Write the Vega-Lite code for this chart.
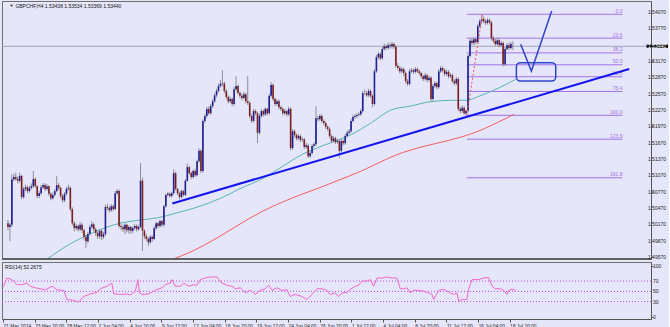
{
"$schema":"https://vega.github.io/schema/vega-lite/v6.json",
"background":"#E6E6FA",
"padding":0,
"spacing":0,
"config":{"view":{"stroke":"#707070"},"font":"Liberation Sans","axis":{"labelFont":"Liberation Sans","labelFontSize":5,"labelColor":"#222222","tickSize":2,"tickColor":"#555555","domainColor":"#555555","grid":false}},
"datasets":{
"bars":[
{"t":0,"o":1.5019,"h":1.5025,"l":1.5006,"c":1.5012},
{"t":1,"o":1.5012,"h":1.5020,"l":1.4986,"c":1.5016},
{"t":2,"o":1.5016,"h":1.5109,"l":1.5012,"c":1.5100},
{"t":3,"o":1.5100,"h":1.5110,"l":1.5096,"c":1.5104},
{"t":4,"o":1.5104,"h":1.5112,"l":1.5097,"c":1.5100},
{"t":5,"o":1.5100,"h":1.5105,"l":1.5092,"c":1.5097},
{"t":6,"o":1.5097,"h":1.5112,"l":1.5094,"c":1.5106},
{"t":7,"o":1.5106,"h":1.5108,"l":1.5063,"c":1.5067},
{"t":8,"o":1.5067,"h":1.5086,"l":1.5064,"c":1.5082},
{"t":9,"o":1.5082,"h":1.5090,"l":1.5078,"c":1.5085},
{"t":10,"o":1.5085,"h":1.5088,"l":1.5074,"c":1.5078},
{"t":11,"o":1.5078,"h":1.5088,"l":1.5075,"c":1.5084},
{"t":12,"o":1.5084,"h":1.5092,"l":1.5081,"c":1.5087},
{"t":13,"o":1.5087,"h":1.5115,"l":1.5084,"c":1.5100},
{"t":14,"o":1.5100,"h":1.5103,"l":1.5084,"c":1.5087},
{"t":15,"o":1.5087,"h":1.5089,"l":1.5065,"c":1.5069},
{"t":16,"o":1.5069,"h":1.5078,"l":1.5065,"c":1.5074},
{"t":17,"o":1.5074,"h":1.5089,"l":1.5071,"c":1.5085},
{"t":18,"o":1.5085,"h":1.5093,"l":1.5082,"c":1.5089},
{"t":19,"o":1.5089,"h":1.5092,"l":1.5078,"c":1.5082},
{"t":20,"o":1.5082,"h":1.5091,"l":1.5079,"c":1.5087},
{"t":21,"o":1.5087,"h":1.5089,"l":1.5069,"c":1.5073},
{"t":22,"o":1.5073,"h":1.5076,"l":1.5061,"c":1.5065},
{"t":23,"o":1.5065,"h":1.5075,"l":1.5062,"c":1.5071},
{"t":24,"o":1.5071,"h":1.5082,"l":1.5068,"c":1.5078},
{"t":25,"o":1.5078,"h":1.5106,"l":1.5076,"c":1.5089},
{"t":26,"o":1.5089,"h":1.5093,"l":1.5080,"c":1.5084},
{"t":27,"o":1.5084,"h":1.5086,"l":1.5065,"c":1.5069},
{"t":28,"o":1.5069,"h":1.5072,"l":1.5057,"c":1.5061},
{"t":29,"o":1.5061,"h":1.5076,"l":1.5058,"c":1.5073},
{"t":30,"o":1.5073,"h":1.5086,"l":1.5070,"c":1.5082},
{"t":31,"o":1.5082,"h":1.5090,"l":1.5079,"c":1.5084},
{"t":32,"o":1.5084,"h":1.5087,"l":1.5041,"c":1.5045},
{"t":33,"o":1.5045,"h":1.5048,"l":1.5015,"c":1.5019},
{"t":34,"o":1.5019,"h":1.5023,"l":1.5004,"c":1.5010},
{"t":35,"o":1.5010,"h":1.5018,"l":1.5006,"c":1.5014},
{"t":36,"o":1.5014,"h":1.5017,"l":1.5004,"c":1.5008},
{"t":37,"o":1.5008,"h":1.5021,"l":1.5005,"c":1.5016},
{"t":38,"o":1.5016,"h":1.5019,"l":1.5001,"c":1.5006},
{"t":39,"o":1.5006,"h":1.5009,"l":1.4988,"c":1.4994},
{"t":40,"o":1.4994,"h":1.4998,"l":1.4973,"c":1.4986},
{"t":41,"o":1.4986,"h":1.5003,"l":1.4982,"c":1.4999},
{"t":42,"o":1.4999,"h":1.5016,"l":1.4996,"c":1.5012},
{"t":43,"o":1.5012,"h":1.5023,"l":1.5009,"c":1.5017},
{"t":44,"o":1.5017,"h":1.5020,"l":1.5004,"c":1.5008},
{"t":45,"o":1.5008,"h":1.5011,"l":1.4996,"c":1.5001},
{"t":46,"o":1.5001,"h":1.5004,"l":1.4990,"c":1.4995},
{"t":47,"o":1.4995,"h":1.5008,"l":1.4991,"c":1.5005},
{"t":48,"o":1.5005,"h":1.5008,"l":1.4988,"c":1.4994},
{"t":49,"o":1.4994,"h":1.5003,"l":1.4990,"c":1.4999},
{"t":50,"o":1.4999,"h":1.5053,"l":1.4996,"c":1.5049},
{"t":51,"o":1.5049,"h":1.5055,"l":1.5043,"c":1.5047},
{"t":52,"o":1.5047,"h":1.5051,"l":1.5039,"c":1.5043},
{"t":53,"o":1.5043,"h":1.5054,"l":1.5040,"c":1.5050},
{"t":54,"o":1.5050,"h":1.5053,"l":1.5041,"c":1.5045},
{"t":55,"o":1.5045,"h":1.5078,"l":1.5043,"c":1.5074},
{"t":56,"o":1.5074,"h":1.5082,"l":1.5071,"c":1.5078},
{"t":57,"o":1.5078,"h":1.5081,"l":1.5010,"c":1.5014},
{"t":58,"o":1.5014,"h":1.5019,"l":1.5006,"c":1.5012},
{"t":59,"o":1.5012,"h":1.5016,"l":1.5003,"c":1.5008},
{"t":60,"o":1.5008,"h":1.5019,"l":1.4999,"c":1.5016},
{"t":61,"o":1.5016,"h":1.5018,"l":1.5002,"c":1.5006},
{"t":62,"o":1.5006,"h":1.5015,"l":1.5000,"c":1.5012},
{"t":63,"o":1.5012,"h":1.5014,"l":1.4999,"c":1.5005},
{"t":64,"o":1.5005,"h":1.5013,"l":1.5001,"c":1.5010},
{"t":65,"o":1.5010,"h":1.5018,"l":1.5007,"c":1.5014},
{"t":66,"o":1.5014,"h":1.5017,"l":1.5004,"c":1.5008},
{"t":67,"o":1.5008,"h":1.5016,"l":1.5005,"c":1.5012},
{"t":68,"o":1.5012,"h":1.5130,"l":1.5010,"c":1.5097},
{"t":69,"o":1.5097,"h":1.5103,"l":1.4968,"c":1.5005},
{"t":70,"o":1.5005,"h":1.5008,"l":1.4990,"c":1.4995},
{"t":71,"o":1.4995,"h":1.4999,"l":1.4986,"c":1.4990},
{"t":72,"o":1.4990,"h":1.4993,"l":1.4977,"c":1.4984},
{"t":73,"o":1.4984,"h":1.4997,"l":1.4981,"c":1.4994},
{"t":74,"o":1.4994,"h":1.4997,"l":1.4985,"c":1.4990},
{"t":75,"o":1.4990,"h":1.5013,"l":1.4988,"c":1.5010},
{"t":76,"o":1.5010,"h":1.5022,"l":1.5007,"c":1.5019},
{"t":77,"o":1.5019,"h":1.5021,"l":1.5010,"c":1.5014},
{"t":78,"o":1.5014,"h":1.5026,"l":1.5011,"c":1.5023},
{"t":79,"o":1.5023,"h":1.5025,"l":1.5012,"c":1.5016},
{"t":80,"o":1.5016,"h":1.5053,"l":1.5013,"c":1.5050},
{"t":81,"o":1.5050,"h":1.5074,"l":1.5047,"c":1.5071},
{"t":82,"o":1.5071,"h":1.5077,"l":1.5068,"c":1.5073},
{"t":83,"o":1.5073,"h":1.5076,"l":1.5066,"c":1.5069},
{"t":84,"o":1.5069,"h":1.5077,"l":1.5066,"c":1.5074},
{"t":85,"o":1.5074,"h":1.5118,"l":1.5072,"c":1.5111},
{"t":86,"o":1.5111,"h":1.5114,"l":1.5079,"c":1.5082},
{"t":87,"o":1.5082,"h":1.5084,"l":1.5071,"c":1.5074},
{"t":88,"o":1.5074,"h":1.5077,"l":1.5063,"c":1.5067},
{"t":89,"o":1.5067,"h":1.5081,"l":1.5065,"c":1.5078},
{"t":90,"o":1.5078,"h":1.5080,"l":1.5068,"c":1.5071},
{"t":91,"o":1.5071,"h":1.5100,"l":1.5069,"c":1.5097},
{"t":92,"o":1.5097,"h":1.5129,"l":1.5095,"c":1.5122},
{"t":93,"o":1.5122,"h":1.5125,"l":1.5108,"c":1.5111},
{"t":94,"o":1.5111,"h":1.5114,"l":1.5100,"c":1.5104},
{"t":95,"o":1.5104,"h":1.5118,"l":1.5101,"c":1.5115},
{"t":96,"o":1.5115,"h":1.5119,"l":1.5104,"c":1.5107},
{"t":97,"o":1.5107,"h":1.5136,"l":1.5105,"c":1.5133},
{"t":98,"o":1.5133,"h":1.5157,"l":1.5130,"c":1.5152},
{"t":99,"o":1.5152,"h":1.5155,"l":1.5111,"c":1.5115},
{"t":100,"o":1.5115,"h":1.5210,"l":1.5112,"c":1.5207},
{"t":101,"o":1.5207,"h":1.5220,"l":1.5203,"c":1.5216},
{"t":102,"o":1.5216,"h":1.5233,"l":1.5212,"c":1.5229},
{"t":103,"o":1.5229,"h":1.5234,"l":1.5218,"c":1.5221},
{"t":104,"o":1.5221,"h":1.5238,"l":1.5218,"c":1.5234},
{"t":105,"o":1.5234,"h":1.5247,"l":1.5231,"c":1.5243},
{"t":106,"o":1.5243,"h":1.5258,"l":1.5240,"c":1.5254},
{"t":107,"o":1.5254,"h":1.5266,"l":1.5250,"c":1.5262},
{"t":108,"o":1.5262,"h":1.5276,"l":1.5259,"c":1.5271},
{"t":109,"o":1.5271,"h":1.5282,"l":1.5268,"c":1.5275},
{"t":110,"o":1.5275,"h":1.5300,"l":1.5270,"c":1.5276},
{"t":111,"o":1.5276,"h":1.5279,"l":1.5258,"c":1.5262},
{"t":112,"o":1.5262,"h":1.5265,"l":1.5247,"c":1.5251},
{"t":113,"o":1.5251,"h":1.5254,"l":1.5239,"c":1.5243},
{"t":114,"o":1.5243,"h":1.5252,"l":1.5240,"c":1.5247},
{"t":115,"o":1.5247,"h":1.5250,"l":1.5234,"c":1.5238},
{"t":116,"o":1.5238,"h":1.5269,"l":1.5235,"c":1.5265},
{"t":117,"o":1.5265,"h":1.5289,"l":1.5262,"c":1.5271},
{"t":118,"o":1.5271,"h":1.5274,"l":1.5255,"c":1.5258},
{"t":119,"o":1.5258,"h":1.5261,"l":1.5249,"c":1.5253},
{"t":120,"o":1.5253,"h":1.5257,"l":1.5245,"c":1.5249},
{"t":121,"o":1.5249,"h":1.5260,"l":1.5246,"c":1.5256},
{"t":122,"o":1.5256,"h":1.5259,"l":1.5239,"c":1.5243},
{"t":123,"o":1.5243,"h":1.5289,"l":1.5236,"c":1.5240},
{"t":124,"o":1.5240,"h":1.5243,"l":1.5212,"c":1.5216},
{"t":125,"o":1.5216,"h":1.5219,"l":1.5203,"c":1.5207},
{"t":126,"o":1.5207,"h":1.5229,"l":1.5204,"c":1.5225},
{"t":127,"o":1.5225,"h":1.5228,"l":1.5217,"c":1.5221},
{"t":128,"o":1.5221,"h":1.5224,"l":1.5166,"c":1.5185},
{"t":129,"o":1.5185,"h":1.5220,"l":1.5182,"c":1.5216},
{"t":130,"o":1.5216,"h":1.5229,"l":1.5213,"c":1.5225},
{"t":131,"o":1.5225,"h":1.5228,"l":1.5215,"c":1.5219},
{"t":132,"o":1.5219,"h":1.5232,"l":1.5216,"c":1.5229},
{"t":133,"o":1.5229,"h":1.5231,"l":1.5217,"c":1.5221},
{"t":134,"o":1.5221,"h":1.5257,"l":1.5218,"c":1.5253},
{"t":135,"o":1.5253,"h":1.5278,"l":1.5250,"c":1.5273},
{"t":136,"o":1.5273,"h":1.5276,"l":1.5243,"c":1.5247},
{"t":137,"o":1.5247,"h":1.5250,"l":1.5234,"c":1.5238},
{"t":138,"o":1.5238,"h":1.5247,"l":1.5235,"c":1.5243},
{"t":139,"o":1.5243,"h":1.5246,"l":1.5228,"c":1.5232},
{"t":140,"o":1.5232,"h":1.5235,"l":1.5225,"c":1.5229},
{"t":141,"o":1.5229,"h":1.5232,"l":1.5217,"c":1.5221},
{"t":142,"o":1.5221,"h":1.5229,"l":1.5218,"c":1.5225},
{"t":143,"o":1.5225,"h":1.5227,"l":1.5215,"c":1.5219},
{"t":144,"o":1.5219,"h":1.5233,"l":1.5216,"c":1.5229},
{"t":145,"o":1.5229,"h":1.5232,"l":1.5153,"c":1.5157},
{"t":146,"o":1.5157,"h":1.5192,"l":1.5154,"c":1.5188},
{"t":147,"o":1.5188,"h":1.5191,"l":1.5177,"c":1.5181},
{"t":148,"o":1.5181,"h":1.5184,"l":1.5171,"c":1.5175},
{"t":149,"o":1.5175,"h":1.5183,"l":1.5172,"c":1.5179},
{"t":150,"o":1.5179,"h":1.5182,"l":1.5168,"c":1.5172},
{"t":151,"o":1.5172,"h":1.5177,"l":1.5169,"c":1.5173},
{"t":152,"o":1.5173,"h":1.5176,"l":1.5155,"c":1.5159},
{"t":153,"o":1.5159,"h":1.5166,"l":1.5156,"c":1.5162},
{"t":154,"o":1.5162,"h":1.5165,"l":1.5139,"c":1.5142},
{"t":155,"o":1.5142,"h":1.5151,"l":1.5139,"c":1.5148},
{"t":156,"o":1.5148,"h":1.5164,"l":1.5145,"c":1.5161},
{"t":157,"o":1.5161,"h":1.5168,"l":1.5158,"c":1.5164},
{"t":158,"o":1.5164,"h":1.5234,"l":1.5161,"c":1.5212},
{"t":159,"o":1.5212,"h":1.5216,"l":1.5206,"c":1.5210},
{"t":160,"o":1.5210,"h":1.5220,"l":1.5207,"c":1.5216},
{"t":161,"o":1.5216,"h":1.5219,"l":1.5203,"c":1.5207},
{"t":162,"o":1.5207,"h":1.5210,"l":1.5199,"c":1.5203},
{"t":163,"o":1.5203,"h":1.5206,"l":1.5192,"c":1.5196},
{"t":164,"o":1.5196,"h":1.5199,"l":1.5188,"c":1.5192},
{"t":165,"o":1.5192,"h":1.5195,"l":1.5175,"c":1.5179},
{"t":166,"o":1.5179,"h":1.5182,"l":1.5166,"c":1.5170},
{"t":167,"o":1.5170,"h":1.5179,"l":1.5167,"c":1.5175},
{"t":168,"o":1.5175,"h":1.5178,"l":1.5164,"c":1.5168},
{"t":169,"o":1.5168,"h":1.5174,"l":1.5165,"c":1.5170},
{"t":170,"o":1.5170,"h":1.5173,"l":1.5139,"c":1.5152},
{"t":171,"o":1.5152,"h":1.5174,"l":1.5149,"c":1.5170},
{"t":172,"o":1.5170,"h":1.5173,"l":1.5162,"c":1.5166},
{"t":173,"o":1.5166,"h":1.5183,"l":1.5163,"c":1.5179},
{"t":174,"o":1.5179,"h":1.5189,"l":1.5176,"c":1.5185},
{"t":175,"o":1.5185,"h":1.5192,"l":1.5182,"c":1.5188},
{"t":176,"o":1.5188,"h":1.5211,"l":1.5185,"c":1.5207},
{"t":177,"o":1.5207,"h":1.5218,"l":1.5204,"c":1.5214},
{"t":178,"o":1.5214,"h":1.5220,"l":1.5211,"c":1.5216},
{"t":179,"o":1.5216,"h":1.5221,"l":1.5212,"c":1.5218},
{"t":180,"o":1.5218,"h":1.5223,"l":1.5215,"c":1.5219},
{"t":181,"o":1.5219,"h":1.5229,"l":1.5216,"c":1.5225},
{"t":182,"o":1.5225,"h":1.5262,"l":1.5222,"c":1.5258},
{"t":183,"o":1.5258,"h":1.5265,"l":1.5254,"c":1.5258},
{"t":184,"o":1.5258,"h":1.5262,"l":1.5251,"c":1.5254},
{"t":185,"o":1.5254,"h":1.5266,"l":1.5251,"c":1.5262},
{"t":186,"o":1.5262,"h":1.5265,"l":1.5249,"c":1.5253},
{"t":187,"o":1.5253,"h":1.5256,"l":1.5232,"c":1.5238},
{"t":188,"o":1.5238,"h":1.5302,"l":1.5235,"c":1.5298},
{"t":189,"o":1.5298,"h":1.5328,"l":1.5295,"c":1.5324},
{"t":190,"o":1.5324,"h":1.5334,"l":1.5320,"c":1.5330},
{"t":191,"o":1.5330,"h":1.5333,"l":1.5318,"c":1.5322},
{"t":192,"o":1.5322,"h":1.5343,"l":1.5319,"c":1.5339},
{"t":193,"o":1.5339,"h":1.5349,"l":1.5336,"c":1.5344},
{"t":194,"o":1.5344,"h":1.5347,"l":1.5337,"c":1.5341},
{"t":195,"o":1.5341,"h":1.5351,"l":1.5338,"c":1.5346},
{"t":196,"o":1.5346,"h":1.5350,"l":1.5340,"c":1.5344},
{"t":197,"o":1.5344,"h":1.5352,"l":1.5340,"c":1.5348},
{"t":198,"o":1.5348,"h":1.5351,"l":1.5339,"c":1.5343},
{"t":199,"o":1.5343,"h":1.5346,"l":1.5304,"c":1.5308},
{"t":200,"o":1.5308,"h":1.5313,"l":1.5300,"c":1.5304},
{"t":201,"o":1.5304,"h":1.5308,"l":1.5294,"c":1.5298},
{"t":202,"o":1.5298,"h":1.5306,"l":1.5295,"c":1.5302},
{"t":203,"o":1.5302,"h":1.5305,"l":1.5289,"c":1.5295},
{"t":204,"o":1.5295,"h":1.5298,"l":1.5276,"c":1.5280},
{"t":205,"o":1.5280,"h":1.5284,"l":1.5271,"c":1.5275},
{"t":206,"o":1.5275,"h":1.5302,"l":1.5272,"c":1.5298},
{"t":207,"o":1.5298,"h":1.5304,"l":1.5295,"c":1.5300},
{"t":208,"o":1.5300,"h":1.5303,"l":1.5293,"c":1.5297},
{"t":209,"o":1.5297,"h":1.5306,"l":1.5294,"c":1.5302},
{"t":210,"o":1.5302,"h":1.5305,"l":1.5295,"c":1.5298},
{"t":211,"o":1.5298,"h":1.5301,"l":1.5291,"c":1.5295},
{"t":212,"o":1.5295,"h":1.5297,"l":1.5285,"c":1.5289},
{"t":213,"o":1.5289,"h":1.5292,"l":1.5280,"c":1.5284},
{"t":214,"o":1.5284,"h":1.5295,"l":1.5281,"c":1.5291},
{"t":215,"o":1.5291,"h":1.5294,"l":1.5278,"c":1.5282},
{"t":216,"o":1.5282,"h":1.5290,"l":1.5279,"c":1.5286},
{"t":217,"o":1.5286,"h":1.5289,"l":1.5243,"c":1.5247},
{"t":218,"o":1.5247,"h":1.5275,"l":1.5244,"c":1.5271},
{"t":219,"o":1.5271,"h":1.5280,"l":1.5268,"c":1.5276},
{"t":220,"o":1.5276,"h":1.5279,"l":1.5265,"c":1.5269},
{"t":221,"o":1.5269,"h":1.5302,"l":1.5266,"c":1.5298},
{"t":222,"o":1.5298,"h":1.5308,"l":1.5295,"c":1.5304},
{"t":223,"o":1.5304,"h":1.5307,"l":1.5296,"c":1.5300},
{"t":224,"o":1.5300,"h":1.5303,"l":1.5289,"c":1.5293},
{"t":225,"o":1.5293,"h":1.5301,"l":1.5290,"c":1.5297},
{"t":226,"o":1.5297,"h":1.5300,"l":1.5285,"c":1.5289},
{"t":227,"o":1.5289,"h":1.5295,"l":1.5286,"c":1.5291},
{"t":228,"o":1.5291,"h":1.5294,"l":1.5276,"c":1.5280},
{"t":229,"o":1.5280,"h":1.5283,"l":1.5272,"c":1.5276},
{"t":230,"o":1.5276,"h":1.5288,"l":1.5273,"c":1.5284},
{"t":231,"o":1.5284,"h":1.5287,"l":1.5225,"c":1.5229},
{"t":232,"o":1.5229,"h":1.5233,"l":1.5221,"c":1.5225},
{"t":233,"o":1.5225,"h":1.5235,"l":1.5222,"c":1.5231},
{"t":234,"o":1.5231,"h":1.5234,"l":1.5218,"c":1.5221},
{"t":235,"o":1.5221,"h":1.5228,"l":1.52172,"c":1.5225},
{"t":236,"o":1.5225,"h":1.5330,"l":1.5222,"c":1.5326},
{"t":237,"o":1.5326,"h":1.5358,"l":1.5323,"c":1.5354},
{"t":238,"o":1.5354,"h":1.5358,"l":1.5346,"c":1.5350},
{"t":239,"o":1.5350,"h":1.5361,"l":1.5346,"c":1.5357},
{"t":240,"o":1.5357,"h":1.5360,"l":1.5348,"c":1.5352},
{"t":241,"o":1.5352,"h":1.5385,"l":1.5349,"c":1.5381},
{"t":242,"o":1.5381,"h":1.5394,"l":1.5378,"c":1.5390},
{"t":243,"o":1.5390,"h":1.54028,"l":1.5387,"c":1.5394},
{"t":244,"o":1.5394,"h":1.5399,"l":1.5386,"c":1.5390},
{"t":245,"o":1.5390,"h":1.5394,"l":1.5383,"c":1.5387},
{"t":246,"o":1.5387,"h":1.5396,"l":1.5384,"c":1.5392},
{"t":247,"o":1.5392,"h":1.5395,"l":1.5384,"c":1.5388},
{"t":248,"o":1.5388,"h":1.5391,"l":1.5355,"c":1.5359},
{"t":249,"o":1.5359,"h":1.5363,"l":1.5350,"c":1.5354},
{"t":250,"o":1.5354,"h":1.5358,"l":1.5344,"c":1.5348},
{"t":251,"o":1.5348,"h":1.5360,"l":1.5345,"c":1.5355},
{"t":252,"o":1.5355,"h":1.5358,"l":1.5342,"c":1.5346},
{"t":253,"o":1.5346,"h":1.5354,"l":1.5343,"c":1.5350},
{"t":254,"o":1.5350,"h":1.5353,"l":1.5307,"c":1.5311},
{"t":255,"o":1.5311,"h":1.5343,"l":1.5308,"c":1.5339},
{"t":256,"o":1.5339,"h":1.5350,"l":1.5336,"c":1.5346},
{"t":257,"o":1.5346,"h":1.5351,"l":1.5337,"c":1.5341},
{"t":258,"o":1.5341,"h":1.5352,"l":1.5338,"c":1.5348},
{"t":259,"o":1.53438,"h":1.53534,"l":1.53369,"c":1.53440}
],
"ma100":[
{"t":20.6,"p":1.49545},{"t":31.5,"p":1.49802},{"t":41.6,"p":1.49986},{"t":50,"p":1.50108},{"t":58.4,"p":1.50199},{"t":66.8,"p":1.50243},{"t":76.9,"p":1.50291},{"t":87,"p":1.50383},{"t":98.8,"p":1.50506},{"t":109,"p":1.50648},{"t":119,"p":1.50824},{"t":130.8,"p":1.51015},{"t":140.9,"p":1.51235},{"t":151,"p":1.51456},{"t":161.1,"p":1.51608},{"t":167.8,"p":1.517},{"t":176.3,"p":1.51823},{"t":186.4,"p":1.52036},{"t":196.5,"p":1.5227},{"t":206.6,"p":1.52343},{"t":216.7,"p":1.52422},{"t":228.4,"p":1.52448},{"t":235.2,"p":1.52448},{"t":241.9,"p":1.52527},{"t":252,"p":1.52679},{"t":260.5,"p":1.52834}
],
"ma200":[
{"t":82,"p":1.4950},{"t":95.5,"p":1.49692},{"t":100.5,"p":1.49784},{"t":130.8,"p":1.50414},{"t":169.5,"p":1.50978},{"t":181.3,"p":1.51149},{"t":196.5,"p":1.51406},{"t":243.6,"p":1.51915},{"t":259.6,"p":1.5219}
],
"fib":[
{"lv":"0.0","t":235.4,"t2":315.2,"p":1.54028},
{"lv":"23.6","t":235.4,"t2":315.2,"p":1.5359},
{"lv":"38.2","t":235.4,"t2":315.2,"p":1.53319},
{"lv":"50.0","t":235.4,"t2":315.2,"p":1.531},
{"lv":"61.8","t":235.4,"t2":315.2,"p":1.52881},
{"lv":"76.4","t":235.4,"t2":315.2,"p":1.5261},
{"lv":"100.0","t":235.4,"t2":315.2,"p":1.52172},
{"lv":"123.6","t":235.4,"t2":315.2,"p":1.51734},
{"lv":"161.8","t":235.4,"t2":315.2,"p":1.51025}
],
"trend":[{"t":84.3,"p":1.50552},{"t":318.7,"p":1.53023}],
"fibdiag":[{"t":235.4,"p":1.52172},{"t":243.4,"p":1.54028}],
"vmark":[{"k":0,"t":263,"p":1.53477},{"k":1,"t":268.5,"p":1.52986},{"k":2,"t":278.9,"p":1.54088}],
"box":[{"t":260.8,"t2":281,"p":1.52802,"p2":1.53139}],
"plabels":[
{"t":328.3,"p":1.5407,"s":"1.54070"},{"t":328.3,"p":1.5377,"s":"1.53770"},{"t":328.3,"p":1.5317,"s":"1.53170"},{"t":328.3,"p":1.5287,"s":"1.52870"},{"t":328.3,"p":1.5257,"s":"1.52570"},{"t":328.3,"p":1.5227,"s":"1.52270"},{"t":328.3,"p":1.5197,"s":"1.51970"},{"t":328.3,"p":1.5167,"s":"1.51670"},{"t":328.3,"p":1.5137,"s":"1.51370"},{"t":328.3,"p":1.5107,"s":"1.51070"},{"t":328.3,"p":1.5077,"s":"1.50770"},{"t":328.3,"p":1.5047,"s":"1.50470"},{"t":328.3,"p":1.5017,"s":"1.50170"},{"t":328.3,"p":1.4987,"s":"1.49870"},{"t":328.3,"p":1.4957,"s":"1.49570"}
],
"rlabels":[{"t":328.3,"r":100,"s":"100"},{"t":328.3,"r":70,"s":"70"},{"t":328.3,"r":50,"s":"50"},{"t":328.3,"r":30,"s":"30"},{"t":328.3,"r":0,"s":"0"}],
"rsi":[
{"t":0.3,"r":60},{"t":2,"r":76},{"t":4.5,"r":73},{"t":7,"r":63},{"t":9.6,"r":63},{"t":12.1,"r":66},{"t":13.8,"r":60},{"t":16.3,"r":57},{"t":18.9,"r":55},{"t":21.4,"r":53},{"t":24.8,"r":60},{"t":27.3,"r":53},{"t":30.7,"r":52},{"t":32.3,"r":34},{"t":34.9,"r":33},{"t":38.2,"r":29},{"t":40.8,"r":40},{"t":44.1,"r":45},{"t":47.5,"r":48},{"t":49.2,"r":55},{"t":52.5,"r":60},{"t":55,"r":66},{"t":55.9,"r":45},{"t":60.1,"r":44},{"t":62.6,"r":45},{"t":64.3,"r":43},{"t":66.8,"r":50},{"t":68.2,"r":73},{"t":68.9,"r":47},{"t":70.2,"r":44},{"t":73.6,"r":45},{"t":76.9,"r":52},{"t":80.3,"r":57},{"t":82,"r":63},{"t":84.5,"r":66},{"t":85.4,"r":73},{"t":87,"r":60},{"t":89.6,"r":60},{"t":91.3,"r":66},{"t":93.8,"r":60},{"t":96.3,"r":63},{"t":98,"r":62},{"t":99.7,"r":73},{"t":102.2,"r":76},{"t":104.7,"r":78},{"t":108.1,"r":78},{"t":110.6,"r":66},{"t":114,"r":61},{"t":115.7,"r":60},{"t":117.3,"r":55},{"t":119.9,"r":57},{"t":122.4,"r":47},{"t":124.9,"r":52},{"t":127.4,"r":44},{"t":130,"r":52},{"t":132.5,"r":55},{"t":134.2,"r":62},{"t":135.9,"r":52},{"t":138.4,"r":57},{"t":140.9,"r":52},{"t":143.4,"r":53},{"t":145.1,"r":40},{"t":147.6,"r":44},{"t":151,"r":40},{"t":153.5,"r":34},{"t":156.1,"r":44},{"t":158.6,"r":55},{"t":161.1,"r":55},{"t":163.6,"r":52},{"t":165.3,"r":44},{"t":167.8,"r":47},{"t":169.5,"r":40},{"t":171.2,"r":47},{"t":173.7,"r":48},{"t":175.4,"r":54},{"t":178,"r":60},{"t":179.6,"r":62},{"t":181.3,"r":70},{"t":183.8,"r":70},{"t":185.5,"r":73},{"t":187.2,"r":60},{"t":188.9,"r":76},{"t":191.4,"r":76},{"t":193.9,"r":78},{"t":196.5,"r":76},{"t":199,"r":76},{"t":200.7,"r":55},{"t":202.4,"r":55},{"t":204.1,"r":57},{"t":205.7,"r":47},{"t":207.4,"r":52},{"t":210,"r":52},{"t":212.5,"r":50},{"t":215,"r":47},{"t":216.7,"r":44},{"t":217.5,"r":34},{"t":220.1,"r":52},{"t":222.6,"r":54},{"t":225.9,"r":47},{"t":227.6,"r":44},{"t":229.3,"r":47},{"t":230.2,"r":30},{"t":231.8,"r":34},{"t":234.3,"r":34},{"t":235.2,"r":54},{"t":236.9,"r":73},{"t":240.3,"r":73},{"t":242.8,"r":76},{"t":245.3,"r":77},{"t":247,"r":60},{"t":248.6,"r":55},{"t":251.2,"r":55},{"t":252.9,"r":52},{"t":254.6,"r":44},{"t":255.4,"r":52},{"t":257.1,"r":54},{"t":258.8,"r":52.27}
],
"levels":[{"v":30},{"v":50},{"v":70}]
},
"vconcat":[
{
"width":649,"height":258,
"layer":[
{"data":{"values":[{"p":1.5344}]},"mark":{"type":"rule","color":"#a4a4b4","strokeWidth":1},
 "encoding":{"y":{"field":"p","type":"quantitative","title":null,"scale":{"domain":[1.49533,1.54272],"nice":false,"zero":false},
   "axis":{"orient":"right","values":[1.4957,1.4987,1.5017,1.5047,1.5077,1.5107,1.5137,1.5167,1.5197,1.5227,1.5257,1.5287,1.5317,1.5347,1.5377,1.5407],"labels":false,"title":null}}}},
{"data":{"name":"fib"},"mark":{"type":"rule","color":"#9f72e6","strokeWidth":1},
 "encoding":{"x":{"field":"t","type":"quantitative","axis":null,"title":null,"scale":{"domain":[-0.5,327.3],"nice":false,"zero":false}},"x2":{"field":"t2"},"y":{"field":"p","type":"quantitative","title":null}}},
{"data":{"name":"fib"},"mark":{"type":"text","color":"#9f72e6","fontSize":5,"align":"right","baseline":"bottom","dy":-0.5},
 "encoding":{"x":{"field":"t2","type":"quantitative","axis":null,"title":null},"y":{"field":"p","type":"quantitative","title":null},"text":{"field":"lv"}}},
{"data":{"name":"ma100"},"mark":{"type":"line","color":"#58b4b4","strokeWidth":1,"clip":true,"interpolate":"monotone"},
 "encoding":{"x":{"field":"t","type":"quantitative","axis":null,"title":null},"y":{"field":"p","type":"quantitative","title":null}}},
{"data":{"name":"ma200"},"mark":{"type":"line","color":"#f0605c","strokeWidth":1,"clip":true,"interpolate":"monotone"},
 "encoding":{"x":{"field":"t","type":"quantitative","axis":null,"title":null},"y":{"field":"p","type":"quantitative","title":null}}},
{"data":{"name":"bars"},"mark":{"type":"rule","color":"#8e8e96","strokeWidth":1,"clip":true},
 "encoding":{"x":{"field":"t","type":"quantitative","axis":null,"title":null},"y":{"field":"l","type":"quantitative","title":null},"y2":{"field":"h"}}},
{"data":{"name":"bars"},"mark":{"type":"bar","width":1.6,"clip":true},
 "encoding":{"x":{"field":"t","type":"quantitative","axis":null,"title":null},"y":{"field":"o","type":"quantitative","title":null},"y2":{"field":"c"},
  "color":{"condition":{"test":"datum.c >= datum.o","value":"#1e1e90"},"value":"#7a1e1e"}}},
{"data":{"name":"trend"},"mark":{"type":"line","color":"#1414f0","strokeWidth":2},
 "encoding":{"x":{"field":"t","type":"quantitative","axis":null,"title":null},"y":{"field":"p","type":"quantitative","title":null}}},
{"data":{"name":"fibdiag"},"mark":{"type":"line","color":"#ff5050","strokeWidth":1,"strokeDash":[2,2]},
 "encoding":{"x":{"field":"t","type":"quantitative","axis":null,"title":null},"y":{"field":"p","type":"quantitative","title":null}}},
{"data":{"name":"vmark"},"mark":{"type":"line","color":"#3344cc","strokeWidth":1.5},
 "encoding":{"x":{"field":"t","type":"quantitative","axis":null,"title":null},"y":{"field":"p","type":"quantitative","title":null},"order":{"field":"k"}}},
{"data":{"name":"box"},"mark":{"type":"rect","fill":null,"fillOpacity":0,"stroke":"#3344cc","strokeWidth":1.5,"cornerRadius":4},
 "encoding":{"x":{"field":"t","type":"quantitative","axis":null,"title":null},"x2":{"field":"t2"},"y":{"field":"p","type":"quantitative","title":null},"y2":{"field":"p2"}}},
{"data":{"values":[{"t":0.8,"p":1.5418,"s":"▼","f":4},{"t":3.8,"p":1.5418,"s":"GBPCHF,H4  1.53438 1.53534 1.53369 1.53440","f":5}]},"mark":{"type":"text","align":"left","baseline":"middle","color":"#111111"},
 "encoding":{"x":{"field":"t","type":"quantitative","axis":null,"title":null},"y":{"field":"p","type":"quantitative","title":null},"text":{"field":"s"},"size":{"field":"f","type":"quantitative","scale":null}}},
{"data":{"values":[{"p":1.49533}]},"mark":{"type":"rule","color":"#606060","strokeWidth":2},
 "encoding":{"y":{"field":"p","type":"quantitative","title":null}}},
{"data":{"name":"plabels"},"mark":{"type":"text","color":"#222222","align":"left","baseline":"middle","fontSize":5,"clip":false},
 "encoding":{"x":{"field":"t","type":"quantitative","axis":null,"title":null},"y":{"field":"p","type":"quantitative","title":null},"text":{"field":"s"}}},
{"data":{"values":[{"t":327.6,"t2":338.6,"p":1.5347,"p2":1.53412}]},"mark":{"type":"rect","color":"#000000","clip":false},
 "encoding":{"x":{"field":"t","type":"quantitative","axis":null,"title":null},"x2":{"field":"t2"},"y":{"field":"p","type":"quantitative","title":null},"y2":{"field":"p2"}}},
{"data":{"values":[{"t":328.3,"p":1.5344,"s":"1.53440"}]},"mark":{"type":"text","color":"#ffffff","align":"left","baseline":"middle","fontSize":5,"clip":false},
 "encoding":{"x":{"field":"t","type":"quantitative","axis":null,"title":null},"y":{"field":"p","type":"quantitative","title":null},"text":{"field":"s"}}}
]
},
{
"width":649,"height":57,
"layer":[
{"data":{"name":"levels"},"mark":{"type":"rule","color":"#b048d8","strokeWidth":1,"strokeDash":[1,2]},
 "encoding":{"y":{"field":"v","type":"quantitative","title":null,"scale":{"domain":[-3.9,107.2],"nice":false,"zero":false},
   "axis":{"orient":"right","values":[0,30,50,70,100],"labels":false,"title":null}}}},
{"data":{"name":"rsi"},"mark":{"type":"line","color":"#f068c8","strokeWidth":1},
 "encoding":{"x":{"field":"t","type":"quantitative","title":null,"scale":{"domain":[-0.5,327.3],"nice":false,"zero":false},
   "axis":{"title":null,"values":[0,16,32,48,64,80,96,112,128,144,160,176,192,208,224,240,256],"labelExpr":"['21 May 2014','23 May 20:00','28 May 12:00','2 Jun 04:00','4 Jun 20:00','9 Jun 12:00','12 Jun 04:00','16 Jun 20:00','19 Jun 12:00','24 Jun 04:00','26 Jun 20:00','1 Jul 12:00','4 Jul 04:00','8 Jul 20:00','11 Jul 12:00','16 Jul 04:00','18 Jul 20:00'][round(datum.value/16)]","labelAlign":"left","labelPadding":1,"tickSize":3,"labelFontSize":4.8,"labelOverlap":false}},
  "y":{"field":"r","type":"quantitative","title":null}}},
{"data":{"values":[{"t":1,"r":97,"s":"RSI(14) 52.2675"}]},"mark":{"type":"text","align":"left","baseline":"middle","fontSize":5,"color":"#111111"},
 "encoding":{"x":{"field":"t","type":"quantitative","title":null},"y":{"field":"r","type":"quantitative","title":null},"text":{"field":"s"}}},
{"data":{"name":"rlabels"},"mark":{"type":"text","color":"#222222","align":"left","baseline":"middle","fontSize":5,"clip":false},
 "encoding":{"x":{"field":"t","type":"quantitative","title":null},"y":{"field":"r","type":"quantitative","title":null},"text":{"field":"s"}}}
]
}
]
}
